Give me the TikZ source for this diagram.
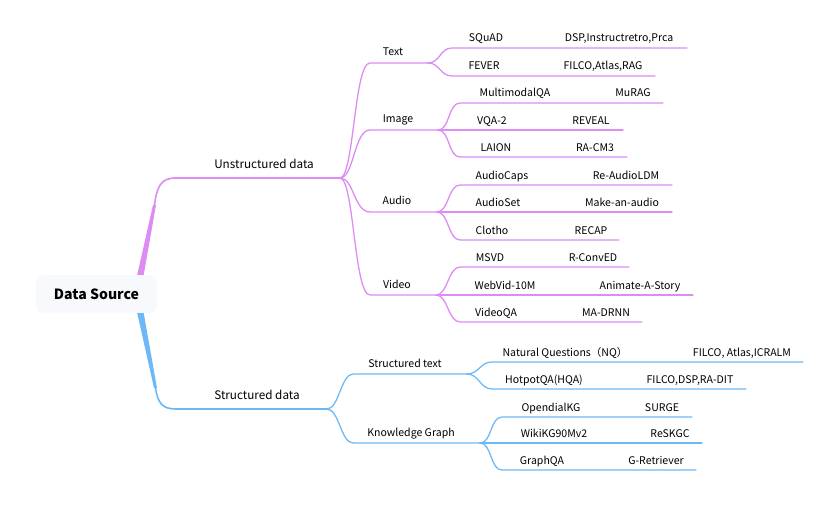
\documentclass[tikz,border=0pt]{standalone}
\usepackage{fontspec}
\setmainfont{Noto Sans CJK SC}
\usepackage{xcolor}
\usetikzlibrary{calc}

\definecolor{unstr}{HTML}{DC8CF2}
\definecolor{strc}{HTML}{6EB9F5}
\definecolor{rootbg}{HTML}{F8F9FD}

\begin{document}
\begin{tikzpicture}[
  x=0.03cm, y=-0.03cm,
  br/.style={line width=1.1pt, line cap=round},
  lf/.style={font=\fontsize{9}{10}\selectfont, inner sep=0pt, anchor=base},
  md/.style={font=\fontsize{9}{10}\selectfont, inner sep=0pt, anchor=base},
  tp/.style={font=\fontsize{10}{12}\selectfont, inner sep=0pt, anchor=base},
  rt/.style={rounded corners=6pt, fill=rootbg, minimum width=3.63cm,
             minimum height=1.14cm, font=\fontsize{12}{14}\selectfont\bfseries}
]
\useasboundingbox (0,0) rectangle (830,507);

% Root
\node[rt] (ds) at (96.5,294) {Data Source};

% Two main branches
\coordinate (us) at (340,178);
\coordinate (ss) at (327,409);
\fill[unstr] ($(ds.north east)+(-20,0)$) -- ($(ds.north east)+(-13.5,0)$)
  -- (156,205) -- (153,205) -- cycle;
\draw[br, unstr, line width=1.4pt] (154.5,205) .. controls (157,186) and (161,178) .. (176,178) -- (us);
\fill[strc] ($(ds.south east)+(-20,0)$) -- ($(ds.south east)+(-13.5,0)$)
  -- (157,388) -- (154,388) -- cycle;
\draw[br, strc, line width=1.4pt] (155.5,388) .. controls (158,403) and (162,409) .. (176,409) -- (ss);
\node[tp] (unstructured) at (264,168) {Unstructured data};
\node[tp] (structured) at (257,399) {Structured data};

% Second level
\foreach \nm/\yy/\xe/\lab/\xl in {text/63/428/Text/393, image/130/438/Image/398,
    audio/212/437/Audio/397, video/295/436/Video/397} {
  \draw[br, unstr] (us) .. controls +(14,0) and +(-16,0) .. (370,\yy) -- (\xe,\yy) coordinate (\nm);
  \node[md] (\nm l) at (\xl,\yy-7) {\lab};
}
\foreach \nm/\yy/\xe/\lab/\xl in {sttext/374/467/Structured text/405,
    kg/443/480/Knowledge Graph/411} {
  \draw[br, strc] (ss) .. controls +(12,0) and +(-12,0) .. (353,\yy) -- (\xe,\yy) coordinate (\nm);
  \node[md] (\nm l) at (\xl,\yy-7) {\lab};
}

% Leaves: datasets and methods
\foreach \sp/\xs/\col/\nm/\yy/\xe/\la/\xa/\lb/\xb in {
    text/452/unstr/squad/48/687/SQuAD/486/{DSP,Instructretro,Prca}/619,
    text/452/unstr/fever/76/655/FEVER/484/{FILCO,Atlas,RAG}/603,
    image/460/unstr/mmqa/103/663/MultimodalQA/515/MuRAG/633,
    image/460/unstr/vqa/130/623/VQA-2/492/REVEAL/591,
    image/460/unstr/laion/157/627/LAION/496/RA-CM3/595,
    audio/460/unstr/acaps/185/672/AudioCaps/502/Re-AudioLDM/626,
    audio/460/unstr/aset/212/672/AudioSet/498/Make-an-audio/622,
    audio/460/unstr/clotho/240/619/Clotho/492/RECAP/591,
    video/460/unstr/msvd/267/629/MSVD/490/R-ConvED/593,
    video/460/unstr/webvid/295/693/WebVid-10M/505/Animate-A-Story/640,
    video/460/unstr/vidqa/322/642/VideoQA/496/MA-DRNN/606,
    sttext/492/strc/nq/362/803/Natural Questions（NQ）/565/{FILCO, Atlas,ICRALM}/742,
    sttext/492/strc/hqa/389/746/HotpotQA(HQA)/544/{FILCO,DSP,RA-DIT}/690,
    kg/502/strc/okg/417/692/OpendialKG/551/SURGE/662,
    kg/502/strc/wiki/443/702/WikiKG90Mv2/554/ReSKGC/670,
    kg/502/strc/gqa/470/696/GraphQA/542/G-Retriever/656} {
  \draw[br, \col] (\sp) .. controls +(12,0) and +(-12,0) .. (\xs,\yy) -- (\xe,\yy) coordinate (\nm e);
  \node[lf] (\nm a) at (\xa,\yy-6) {\la};
  \node[lf] (\nm b) at (\xb,\yy-6) {\lb};
}
\end{tikzpicture}
\end{document}
